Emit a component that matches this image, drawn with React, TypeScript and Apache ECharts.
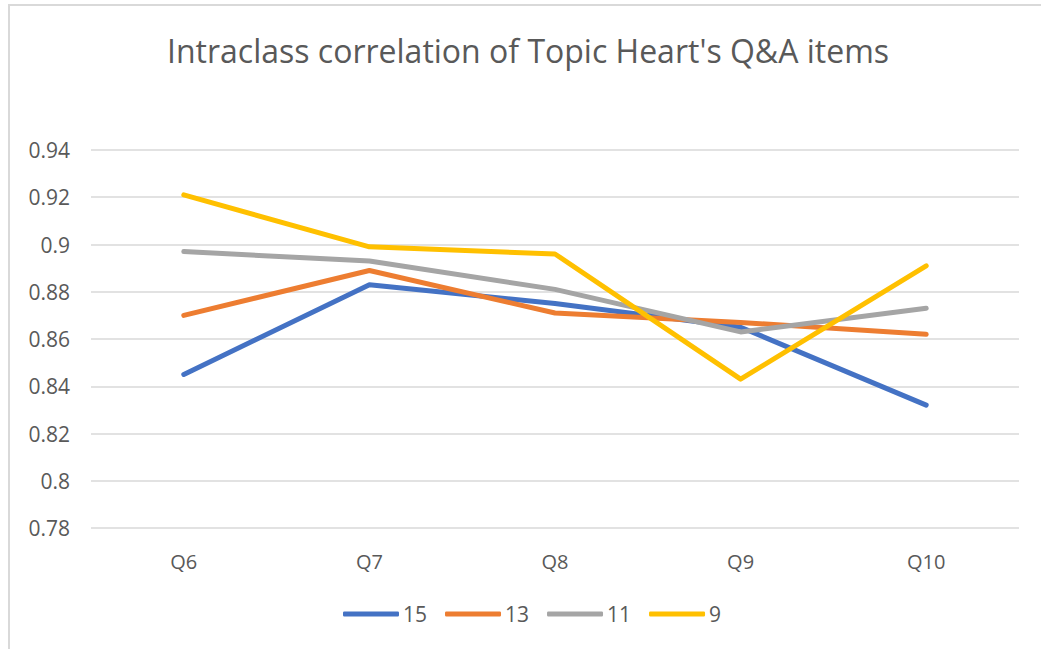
import React, { useEffect, useRef } from "react";
import * as echarts from "echarts";

const categories = ["Q6", "Q7", "Q8", "Q9", "Q10"];
const seriesNames = ["15", "13", "11", "9"];
const values15 = [0.845, 0.883, 0.875, 0.865, 0.832];
const values13 = [0.87, 0.889, 0.871, 0.867, 0.862];
const values11 = [0.897, 0.893, 0.881, 0.863, 0.873];
const values9 = [0.921, 0.899, 0.896, 0.843, 0.891];
const colors = ["#4472C4", "#ED7D31", "#A5A5A5", "#FFC000"];
const yTicks = { min: 0.78, max: 0.94, interval: 0.02 };
const titleText = "Intraclass correlation of Topic Heart's Q&A items";

export default function App() {
  const ref = useRef<HTMLDivElement>(null);
  useEffect(() => {
    if (!ref.current) return;
    const chart = echarts.init(ref.current, undefined, { renderer: "svg" });
    const data = [values15, values13, values11, values9];
    const font = "'Open Sans', 'Liberation Sans', sans-serif";
    chart.setOption({
      animation: false,
      backgroundColor: "#ffffff",
      graphic: [
        { type: "rect", shape: { x: 8, y: 4, width: 2, height: 645 }, style: { fill: "#d9d9d9" }, silent: true },
        { type: "rect", shape: { x: 8, y: 4, width: 1033, height: 2 }, style: { fill: "#d9d9d9" }, silent: true },
        {
          type: "text",
          x: 528,
          y: 50,
          silent: true,
          style: {
            text: titleText,
            fontFamily: font,
            fontSize: 32,
            fill: "#595959",
            align: "center",
            verticalAlign: "middle",
          },
        },
      ],
      legend: {
        top: 597,
        left: 338,
        itemWidth: 56,
        itemHeight: 5,
        itemGap: 18,
        icon: "roundRect",
        data: seriesNames,
        textStyle: { fontFamily: font, fontSize: 21, lineHeight: 24, color: "#595959", padding: [0, 0, 0, -1] },
      },
      grid: { left: 91, right: 22, top: 150, bottom: 121 },
      xAxis: {
        type: "category",
        data: categories,
        boundaryGap: true,
        axisLine: { show: false },
        axisTick: { show: false },
        axisLabel: { fontFamily: font, fontSize: 20, color: "#595959", margin: 23 },
      },
      yAxis: {
        type: "value",
        min: yTicks.min,
        max: yTicks.max,
        interval: yTicks.interval,
        axisLine: { show: false },
        axisTick: { show: false },
        axisLabel: {
          fontFamily: font,
          fontSize: 21,
          color: "#595959",
          margin: 21,
          formatter: (v: number) => String(parseFloat(v.toFixed(2))),
        },
        splitLine: { lineStyle: { color: "#d9d9d9", width: 1.5 } },
      },
      series: seriesNames.map((name, i) => ({
        name,
        type: "line",
        data: data[i],
        symbol: "none",
        color: colors[i],
        lineStyle: { width: 5, color: colors[i], cap: "round", join: "round" },
      })),
    });
    return () => chart.dispose();
  }, []);
  return (
    <div
      ref={ref}
      style={{ position: "fixed", left: 0, top: 0, width: 1041, height: 649 }}
    />
  );
}
